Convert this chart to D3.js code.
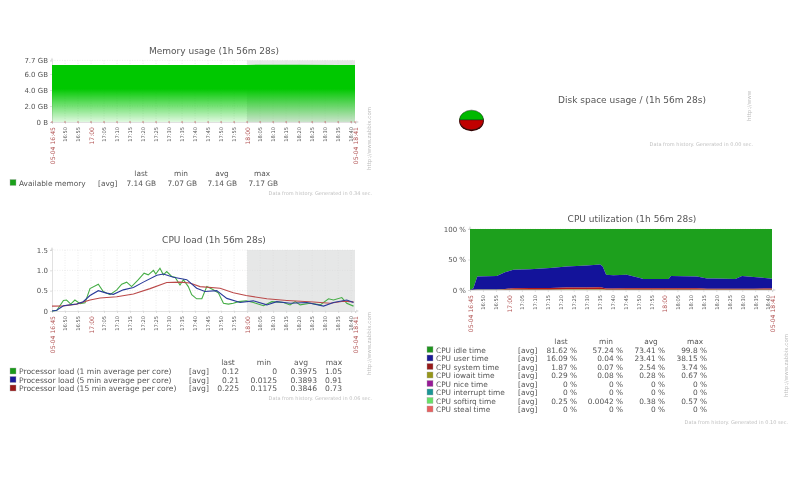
<!DOCTYPE html>
<html>
<head>
<meta charset="utf-8">
<script src="https://cdn.jsdelivr.net/npm/d3@7/dist/d3.min.js"></script>
<style>
html,body{margin:0;padding:0;background:#fff;}
svg{display:block;filter:blur(0.5px);}
text{font-family:"DejaVu Sans",sans-serif;}
</style>
</head>
<body>
<svg id="c" width="800" height="480"></svg>
<script>
// ---------- time axis ----------
const tickMinutes = [0,5,10,15,20,25,30,35,40,45,50,55,60,65,70,75,80,85,90,95,100,105,110,115,116.47];
const tickLabels = ["05-04 16:45","16:50","16:55","17:00","17:05","17:10","17:15","17:20","17:25","17:30","17:35","17:40","17:45","17:50","17:55","18:00","18:05","18:10","18:15","18:20","18:25","18:30","18:35","18:40","05-04 18:41"];
const redLabels = ["05-04 16:45","17:00","18:00","05-04 18:41"];
const workStart = 75, timeEnd = 116.47;

// ---------- memory ----------
const memTimes = [0,20,40,60,75,95,110,116.47];
const memAvail = [7.14,7.14,7.13,7.14,7.14,7.15,7.14,7.14];
const memTicks = [0,2,4,6,7.7];
const memTickLabels = ["0 B","2.0 GB","4.0 GB","6.0 GB","7.7 GB"];

// ---------- CPU load ----------
const load1T = [0,1.8,4.4,5.6,7.2,8.8,10.8,12.7,14.6,17.8,19.7,22.3,24.9,26.8,28.7,30.6,33.2,35.4,37,39,39.9,41.5,42.8,44.1,46,47.3,49.2,50.5,52.4,53.7,55.6,57.6,59.5,62,64,65.9,67.8,69.7,71.7,74.6,77.4,81.3,84.5,89,91.5,93.5,95.4,99.2,103.1,106.3,108.2,111.4,113.3,115.9];
const load1V = [0,0.01,.26,.27,.17,.27,.18,.2,.55,.66,.48,.40,.52,.66,.71,.60,.77,.93,.89,1.0,.91,1.05,.89,.97,.85,.83,.64,.77,.60,.40,.30,.30,.60,.52,.44,.19,.17,.19,.23,.25,.21,.13,.23,.21,.15,.23,.15,.19,.15,.30,.27,.33,.19,.12];
const load5T = [0,1.8,4.4,9.5,12,14.6,17.8,21,23.6,27.4,31.3,35.1,40.3,42.8,46.7,51.8,55.6,58.8,63.3,67.2,72.3,77.4,82.6,86.4,91.5,98,104.4,108.2,113.3,115.9];
const load5V = [0,.02,.13,.17,.23,.38,.50,.44,.41,.52,.58,.71,.88,.91,.83,.77,.56,.48,.50,.31,.21,.25,.15,.23,.19,.21,.12,.21,.27,.21];
const load15T = [0,4.4,9.5,14.6,18.5,24.9,31.3,37.7,44.1,49.2,53,56.9,64.6,69.7,74.6,82.6,90.3,100.5,106.9,112,115.9];
const load15V = [.12,.125,.17,.27,.32,.35,.42,.55,.70,.71,.69,.60,.56,.45,.38,.30,.26,.22,.19,.24,.225];
const loadTicks = [0,0.5,1,1.5];
const loadTickLabels = ["0","0.5","1.0","1.5"];

// ---------- CPU utilization ----------
const cpuTimes = [0,1.3,2.8,10.3,13.5,16.7,23.2,30.9,37.3,45,50.2,51.2,52.5,55.3,60.5,64.4,66.9,73.4,76.6,77.5,82.4,87.5,91.4,94,102.3,104.9,109.4,116.47];
const cpuSoftirq = [.01,.2,.3,.3,.3,.3,.3,.3,.4,.5,.5,.3,.3,.3,.3,.3,.3,.3,.3,.3,.3,.3,.3,.3,.3,.3,.3,.25];
const cpuIowait = [.09,.2,.3,.3,.3,.3,.3,.3,.3,.2,.26,.4,.3,.3,.3,.3,.3,.3,.3,.3,.3,.3,.3,.3,.3,.3,.3,.29];
const cpuSystem = [.06,.1,.4,.4,.9,2.4,2.6,2.7,3.3,3.6,3.74,2.8,1.9,1.9,2.4,2.4,2.4,2.4,2.4,2.4,2.3,2.3,1.4,1.4,1.4,1.6,1.6,1.87];
const cpuUser = [.04,2.5,21,22,27.5,30,30.8,32.7,34.5,35.7,37.5,35,22.5,21.5,22,18,15,15,15,20,19.6,19.1,17,17,16,20.8,19.3,16.09];
const cpuIdle = [99.8,97,78,77,71,67,66,64,61.5,60,58,61.5,75,76,75,79,82,82,82,77,77.5,78,81,81,82,77,78.5,81.62];
const cpuTicks = [0,50,100];
const cpuTickLabels = ["0 %","50 %","100 %"];

// ---------- disk pie ----------
const diskNames = ["Free","Used"];
const diskValues = [50,50];

// ---------- legends ----------
const memLegend = [["Available memory","[avg]","7.14 GB","7.07 GB","7.14 GB","7.17 GB"]];
const loadLegend = [
 ["Processor load (1 min average per core)","[avg]","0.12","0","0.3975","1.05"],
 ["Processor load (5 min average per core)","[avg]","0.21","0.0125","0.3893","0.91"],
 ["Processor load (15 min average per core)","[avg]","0.225","0.1175","0.3846","0.73"]];
const cpuLegend = [
 ["CPU idle time","[avg]","81.62 %","57.24 %","73.41 %","99.8 %"],
 ["CPU user time","[avg]","16.09 %","0.04 %","23.41 %","38.15 %"],
 ["CPU system time","[avg]","1.87 %","0.07 %","2.54 %","3.74 %"],
 ["CPU iowait time","[avg]","0.29 %","0.08 %","0.28 %","0.67 %"],
 ["CPU nice time","[avg]","0 %","0 %","0 %","0 %"],
 ["CPU interrupt time","[avg]","0 %","0 %","0 %","0 %"],
 ["CPU softirq time","[avg]","0.25 %","0.0042 %","0.38 %","0.57 %"],
 ["CPU steal time","[avg]","0 %","0 %","0 %","0 %"]];
const legendHeads = ["last","min","avg","max"];
const memColors = ["#1aa01a"];
const loadColors = ["#1a9a1a","#1a1a9a","#9a1a1a"];
const cpuColors = ["#1f951f","#1a1a96","#961a1a","#96961a","#961a96","#1a9696","#66e066","#e86060"];

const svg = d3.select("#c");
const TXT = "#555";

function frame(opts){
  const {x0,x1,y0,y1,title,titleX,titleY,domainY,yTicks,yLabels,shade,sideX,sideY,sideLen,footX,footY,foot} = opts;
  const g = svg.append("g");
  const x = d3.scaleLinear().domain([0,timeEnd]).range([x0,x1]);
  const y = d3.scaleLinear().domain(domainY).range([y0,y1]).clamp(true);
  g.append("text").attr("x",titleX).attr("y",titleY).attr("text-anchor","middle")
    .attr("font-size",9).attr("fill",TXT).text(title);
  if(shade) g.append("rect").attr("x",x(workStart)).attr("y",y1).attr("width",x(timeEnd)-x(workStart)).attr("height",y0-y1).attr("fill","#e6e7e7");
  // grid
  g.append("g").selectAll("line").data(tickMinutes.slice(1,-1)).join("line")
    .attr("x1",d=>x(d)).attr("x2",d=>x(d)).attr("y1",y1).attr("y2",y0)
    .attr("stroke","#d8d8d8").attr("stroke-width",.5).attr("stroke-dasharray","1 1.5");
  g.append("g").selectAll("line").data(yTicks.slice(1)).join("line")
    .attr("x1",x0).attr("x2",x1).attr("y1",d=>y(d)).attr("y2",d=>y(d))
    .attr("stroke","#d8d8d8").attr("stroke-width",.5).attr("stroke-dasharray","1 1.5");
  // y axis
  const ya = d3.axisLeft(y).tickValues(yTicks).tickFormat((d,i)=>yLabels[i]).tickSize(2).tickPadding(2);
  const yg = g.append("g").attr("class","yaxis").attr("transform",`translate(${x0},0)`).call(ya);
  yg.selectAll("text").attr("font-size",7).attr("fill",TXT).style("font-family",'"DejaVu Sans",sans-serif');
  yg.selectAll("line,path").attr("stroke","#ccc").attr("stroke-width",.6);
  // x axis
  const xa = d3.axisBottom(x).tickValues(tickMinutes).tickFormat((d,i)=>tickLabels[i]).tickSize(2).tickPadding(0);
  const xg = g.append("g").attr("class","xaxis").attr("transform",`translate(0,${y0})`).call(xa);
  xg.selectAll("line,path").attr("stroke","#ccc").attr("stroke-width",.6);
  xg.selectAll("text")
    .attr("transform","rotate(-90)").attr("text-anchor","end").attr("dy","0.35em")
    .attr("y",0).attr("x",-5)
    .style("font-family",'"DejaVu Sans",sans-serif')
    .attr("font-size",(d,i)=>redLabels.includes(tickLabels[i])?6.1:5.1)
    .attr("fill",(d,i)=>redLabels.includes(tickLabels[i])?"#b05050":"#555");
  // arrows
  g.append("path").attr("d",`M${x0-1.5},${y1}L${x0},${y1-3}L${x0+1.5},${y1}Z`).attr("fill","#ddd");
  g.append("path").attr("d",`M${x1+1},${y0-1.5}L${x1+4},${y0}L${x1+1},${y0+1.5}Z`).attr("fill","#ddd");
  sideFoot(sideX,sideY,sideLen,footX,footY,foot);
  return {g,x,y};
}
function sideFoot(sideX,sideY,sideText,footX,footY,foot){
  svg.append("text").attr("transform",`translate(${sideX},${sideY}) rotate(-90)`)
    .attr("font-size",5.5).attr("fill","#bbb").text(sideText);
  svg.append("text").attr("x",footX).attr("y",footY).attr("text-anchor","end")
    .attr("font-size",5).attr("fill","#c0c0c0").text(foot);
}
function legend(rows,colors,o){
  const g = svg.append("g").attr("font-size",o.fs).attr("fill",TXT);
  legendHeads.forEach((h,i)=>g.append("text").attr("x",o.headX[i]).attr("y",o.headY).attr("text-anchor","middle").text(h));
  rows.forEach((r,k)=>{
    const yy = o.rowY + k*o.step;
    g.append("rect").attr("x",o.sqX).attr("y",yy-6).attr("width",6).attr("height",6)
      .attr("fill",colors[k]).attr("stroke","#aaa").attr("stroke-width",.4);
    g.append("text").attr("x",o.sqX+9).attr("y",yy).text(r[0]);
    g.append("text").attr("x",o.avgX).attr("y",yy).text(r[1]);
    r.slice(2).forEach((v,i)=>g.append("text").attr("x",o.valX[i]).attr("y",yy).attr("text-anchor","end").text(v));
  });
}

// ===== Memory =====
(function(){
  const f = frame({x0:52,x1:355,y0:122,y1:60.4,title:"Memory usage (1h 56m 28s)",titleX:214,titleY:54,
    domainY:[0,7.7],yTicks:memTicks,yLabels:memTickLabels,shade:true,
    sideX:371,sideY:170,sideLen:"http://www.zabbix.com",footX:372,footY:195,foot:"Data from history. Generated in 0.34 sec."});
  const defs = svg.append("defs");
  const gr = defs.append("linearGradient").attr("id","memFill").attr("x1",0).attr("x2",0).attr("y1",0).attr("y2",1);
  gr.append("stop").attr("offset","0%").attr("stop-color","#00c800").attr("stop-opacity",1);
  gr.append("stop").attr("offset","42%").attr("stop-color","#00c800").attr("stop-opacity",1);
  gr.append("stop").attr("offset","100%").attr("stop-color","#00c800").attr("stop-opacity",.12);
  const area = d3.area().x((d,i)=>f.x(memTimes[i])).y0(f.y(0)).y1(d=>f.y(d));
  f.g.append("path").datum(memAvail).attr("d",area).attr("fill","url(#memFill)");
  f.g.append("g").selectAll("circle").data(tickMinutes).join("circle")
    .attr("cx",d=>f.x(d)).attr("cy",f.y(0)).attr("r",.7).attr("fill","#c06060");
  legend(memLegend,memColors,{fs:7.4,headX:[141,181,222,262],headY:176,rowY:185.5,step:8.5,sqX:10,avgX:98,valX:[156,197,237,278]});
})();

// ===== CPU load =====
(function(){
  const f = frame({x0:52,x1:355,y0:311,y1:250,title:"CPU load (1h 56m 28s)",titleX:214,titleY:243,
    domainY:[0,1.5],yTicks:loadTicks,yLabels:loadTickLabels,shade:true,
    sideX:371,sideY:375,sideLen:"http://www.zabbix.com",footX:372,footY:400,foot:"Data from history. Generated in 0.06 sec."});
  const line = T=>d3.line().x((d,i)=>f.x(T[i])).y(d=>f.y(d));
  [[load1T,load1V,"#45ad45"],[load15T,load15V,"#bb4a4a"],[load5T,load5V,"#2a3a9a"]].forEach(([T,V,c])=>{
    f.g.append("path").datum(V).attr("d",line(T)).attr("fill","none").attr("stroke",c).attr("stroke-width",1.1);
  });
  legend(loadLegend,loadColors,{fs:7.6,headX:[228,264,301,334],headY:365,rowY:374,step:8.5,sqX:10,avgX:189,valX:[239,277,317,342]});
})();

// ===== CPU utilization =====
(function(){
  const f = frame({x0:470,x1:772,y0:290,y1:229,title:"CPU utilization (1h 56m 28s)",titleX:632,titleY:222,
    domainY:[0,100],yTicks:cpuTicks,yLabels:cpuTickLabels,shade:false,
    sideX:788,sideY:397,sideLen:"http://www.zabbix.com",footX:788,footY:424,foot:"Data from history. Generated in 0.10 sec."});
  const table = cpuTimes.map((t,i)=>({t,softirq:cpuSoftirq[i],iowait:cpuIowait[i],system:cpuSystem[i],user:cpuUser[i],idle:cpuIdle[i]}));
  const keys = ["softirq","iowait","system","user","idle"];
  const cols = {softirq:"#66e066",iowait:"#a09a20",system:"#b01818",user:"#13139a",idle:"#1da01d"};
  const stack = d3.stack().keys(keys)(table);
  const area = d3.area().x(d=>f.x(d.data.t)).y0(d=>f.y(d[0])).y1(d=>f.y(d[1]));
  f.g.append("g").selectAll("path").data(stack.slice().reverse()).join("path")
    .attr("d",area).attr("fill",d=>cols[d.key]);
  legend(cpuLegend,cpuColors,{fs:7.4,headX:[561,606,651,695],headY:344,rowY:352.5,step:8.5,sqX:427,avgX:518,valX:[577,623,665,707]});
})();

// ===== Disk =====
(function(){
  svg.append("text").attr("x",632).attr("y",103).attr("text-anchor","middle").attr("font-size",9).attr("fill",TXT)
    .text("Disk space usage / (1h 56m 28s)");
  sideFoot(751,121,"http://www",753,146,"Data from history. Generated in 0.00 sec.");
  const g = svg.append("g").attr("transform","translate(471.5,120) scale(1,0.82)");
  const r = 12;
  g.append("ellipse").attr("cx",0).attr("cy",1.5).attr("rx",r+.3).attr("ry",r+.3).attr("fill","#300");
  const colors = ["#00b800","#c00000"];
  const pie = d3.pie().sort(null).startAngle(-Math.PI/2).endAngle(Math.PI*1.5)(diskValues);
  g.selectAll("path.s").data(pie).join("path").attr("class","s")
    .attr("d",d3.arc().innerRadius(0).outerRadius(r)).attr("fill",(d,i)=>colors[i]).attr("stroke","#222").attr("stroke-width",.5);
})();
</script>
</body>
</html>
